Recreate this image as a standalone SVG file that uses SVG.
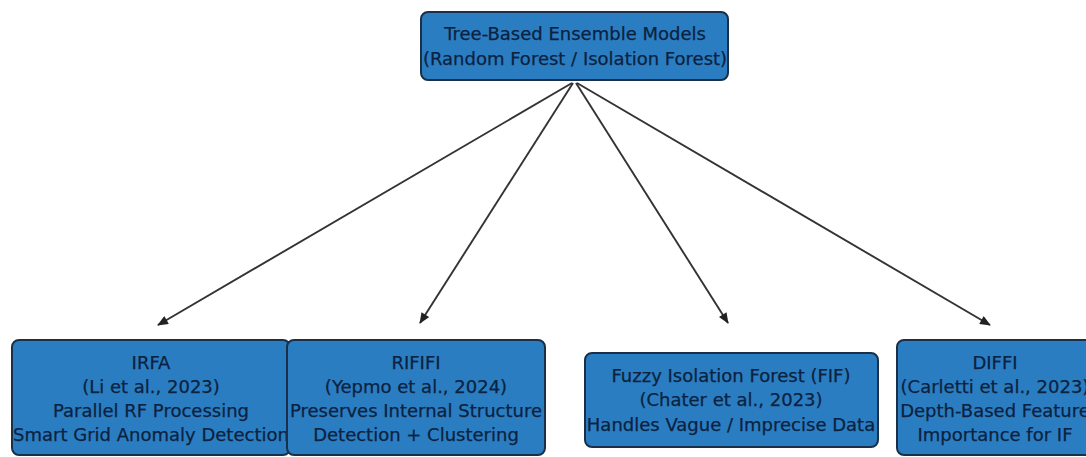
<svg xmlns="http://www.w3.org/2000/svg" width="1086" height="457" viewBox="0 0 1086 457">
  <style>
    .box { fill: #2b7dc1; stroke: #1a2f48; stroke-width: 2; }
    .lbl { font-family: "DejaVu Sans", "Liberation Sans", sans-serif; font-size: 18px; fill: #0b2240; text-anchor: middle; stroke: #0b2240; stroke-width: 0.25; }
    .edge { stroke: #333333; stroke-width: 1.9; fill: none; marker-end: url(#head); }
  </style>
  <defs>
    <marker id="head" viewBox="0 0 12 10" refX="11" refY="5" markerWidth="12" markerHeight="9" orient="auto" markerUnits="userSpaceOnUse">
      <path d="M0,0 L12,5 L0,10 z" fill="#222222"/>
    </marker>
  </defs>
  <rect width="1086" height="457" fill="#ffffff"/>

  <g id="connectors">
    <line class="edge" x1="572" y1="83" x2="158" y2="325"/>
    <line class="edge" x1="573" y1="83" x2="420" y2="323"/>
    <line class="edge" x1="576" y1="83" x2="728" y2="323"/>
    <line class="edge" x1="577" y1="83" x2="990" y2="325"/>
  </g>

  <g id="root">
    <rect class="box" x="421" y="12" width="307" height="68" rx="7"/>
    <text class="lbl" x="575" y="40">Tree-Based Ensemble Models</text>
    <text class="lbl" x="575" y="65">(Random Forest / Isolation Forest)</text>
  </g>

  <g id="irfa">
    <rect class="box" x="12" y="340" width="278" height="115" rx="7"/>
    <text class="lbl" x="151" y="369">IRFA</text>
    <text class="lbl" x="151" y="393">(Li et al., 2023)</text>
    <text class="lbl" x="151" y="417">Parallel RF Processing</text>
    <text class="lbl" x="151" y="441">Smart Grid Anomaly Detection</text>
  </g>

  <g id="rififi">
    <rect class="box" x="287" y="340" width="258" height="115" rx="7"/>
    <text class="lbl" x="416" y="369">RIFIFI</text>
    <text class="lbl" x="416" y="393">(Yepmo et al., 2024)</text>
    <text class="lbl" x="416" y="417">Preserves Internal Structure</text>
    <text class="lbl" x="416" y="441">Detection + Clustering</text>
  </g>

  <g id="fif">
    <rect class="box" x="585" y="353" width="293" height="94" rx="7"/>
    <text class="lbl" x="731" y="382">Fuzzy Isolation Forest (FIF)</text>
    <text class="lbl" x="731" y="406">(Chater et al., 2023)</text>
    <text class="lbl" x="731" y="431">Handles Vague / Imprecise Data</text>
  </g>

  <!-- this box runs past the right edge of the canvas -->
  <g id="diffi">
    <rect class="box" x="897" y="340" width="200" height="115" rx="7"/>
    <text class="lbl" x="995" y="369">DIFFI</text>
    <text class="lbl" x="995" y="393">(Carletti et al., 2023)</text>
    <text class="lbl" x="995" y="417">Depth-Based Feature</text>
    <text class="lbl" x="995" y="441">Importance for IF</text>
  </g>
</svg>
